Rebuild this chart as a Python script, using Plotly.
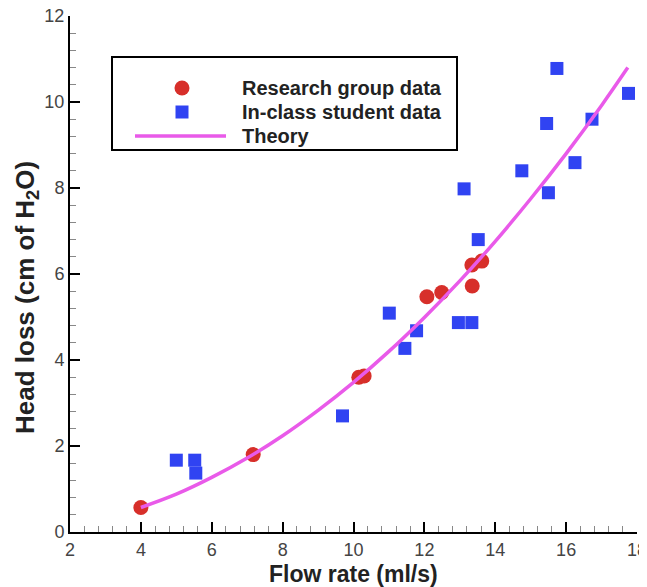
import plotly.graph_objects as go

# ---- data ----
research_x = [4.0, 7.17, 10.15, 10.3, 12.07, 12.49, 13.35, 13.34, 13.62]
research_y = [0.57, 1.80, 3.60, 3.63, 5.47, 5.57, 5.72, 6.21, 6.30]

student_x = [5.0, 5.52, 5.55, 9.69, 11.01, 11.45, 11.78, 12.96, 13.34,
             13.12, 13.52, 14.75, 15.45, 15.50, 15.74, 16.25, 16.73, 17.76]
student_y = [1.67, 1.67, 1.37, 2.70, 5.09, 4.27, 4.68, 4.87, 4.87,
             7.98, 6.80, 8.40, 9.50, 7.89, 10.78, 8.59, 9.60, 10.20]

theory_x = [4, 5, 6, 7, 8, 9, 10, 11, 12, 13, 14, 15, 16, 17, 17.74]
theory_y = [0.57, 0.88, 1.27, 1.72, 2.24, 2.83, 3.48, 4.20, 4.99, 5.84,
            6.76, 7.75, 8.80, 9.92, 10.80]

x_ticks = [2, 4, 6, 8, 10, 12, 14, 16, 18]
y_ticks = [0, 2, 4, 6, 8, 10, 12]

legend_labels = ["Research group data", "In-class student data", "Theory"]

RED = "#D72F2A"
BLUE = "#3043F2"
MAGENTA = "#E95AE9"

# ---- layout geometry (page pixels; the page body has an 8px margin) ----
OFF = 8
W, H = 647, 587
PW, PH = 567, 516
ML, MT = 70 - OFF, 16 - OFF
MR, MB = W - ML - PW, H - MT - PH
PLOT_LEFT = ML + OFF          # page x of plot left edge
PLOT_BOTTOM = MT + OFF + PH   # page y of plot bottom edge


def px(x):
    return (x - PLOT_LEFT) / PW


def py(y):
    return (PLOT_BOTTOM - y) / PH


fig = go.Figure()
fig.add_trace(go.Scatter(x=research_x, y=research_y, mode="markers",
                         name=legend_labels[0],
                         marker=dict(symbol="circle", size=15, color=RED,
                                     line=dict(width=0))))
fig.add_trace(go.Scatter(x=student_x, y=student_y, mode="markers",
                         name=legend_labels[1],
                         marker=dict(symbol="square", size=13, color=BLUE,
                                     line=dict(width=0))))
fig.add_trace(go.Scatter(x=theory_x, y=theory_y, mode="lines",
                         name=legend_labels[2], line_shape="spline",
                         line=dict(color=MAGENTA, width=3.5)))

axis_common = dict(
    showline=True, linecolor="black", linewidth=2,
    ticks="inside", ticklen=10, tickwidth=2, tickcolor="black",
    showgrid=False, zeroline=False, ticklabeloverflow="allow",
    automargin=False,
    tickfont=dict(family="Liberation Sans, Arial", size=18, color="#444"),
    minor=dict(dtick=0.4, ticks="inside", ticklen=6, tickwidth=1,
               tickcolor="#888", showgrid=False),
)

fig.update_xaxes(range=[2, 18], tickvals=x_ticks, **axis_common)
fig.update_yaxes(range=[0, 12], tickvals=y_ticks, **axis_common)

# ---- custom legend box ----
shapes = [
    dict(type="rect", xref="paper", yref="paper",
         x0=px(112), x1=px(457), y0=py(150), y1=py(57),
         line=dict(color="black", width=2), fillcolor="white", layer="below"),
    dict(type="circle", xref="paper", yref="paper", xsizemode="pixel",
         ysizemode="pixel", xanchor=px(182), yanchor=py(88),
         x0=-7.5, x1=7.5, y0=-7.5, y1=7.5,
         fillcolor=RED, line=dict(width=0)),
    dict(type="rect", xref="paper", yref="paper", xsizemode="pixel",
         ysizemode="pixel", xanchor=px(182), yanchor=py(112),
         x0=-6.5, x1=6.5, y0=-6.5, y1=6.5,
         fillcolor=BLUE, line=dict(width=0)),
    dict(type="line", xref="paper", yref="paper",
         x0=px(135), x1=px(226), y0=py(136), y1=py(136),
         line=dict(color=MAGENTA, width=3.5)),
]

annotations = []
for label, yy in zip(legend_labels, [88, 112, 136]):
    annotations.append(dict(
        text="<b>" + label + "</b>", xref="paper", yref="paper",
        x=px(240), y=py(yy), xanchor="left", yanchor="middle",
        showarrow=False,
        font=dict(family="Liberation Sans, Arial", size=20, color="#222")))

annotations.append(dict(
    text="<b>Flow rate (ml/s)</b>", xref="paper", yref="paper",
    x=0.5, y=py(574), xanchor="center", yanchor="middle", showarrow=False,
    font=dict(family="Liberation Sans, Arial", size=23, color="#222")))
annotations.append(dict(
    text="<b>Head loss (cm of H<sub>2</sub>O)</b>", xref="paper", yref="paper",
    x=px(26), y=py(298), xanchor="center", yanchor="middle",
    textangle=-90, showarrow=False,
    font=dict(family="Liberation Sans, Arial", size=26, color="#222")))

fig.update_layout(
    width=W, height=H,
    margin=dict(l=ML, r=MR, t=MT, b=MB, autoexpand=False),
    paper_bgcolor="white", plot_bgcolor="white",
    showlegend=False,
    shapes=shapes, annotations=annotations,
)

fig.write_html("out.html")
